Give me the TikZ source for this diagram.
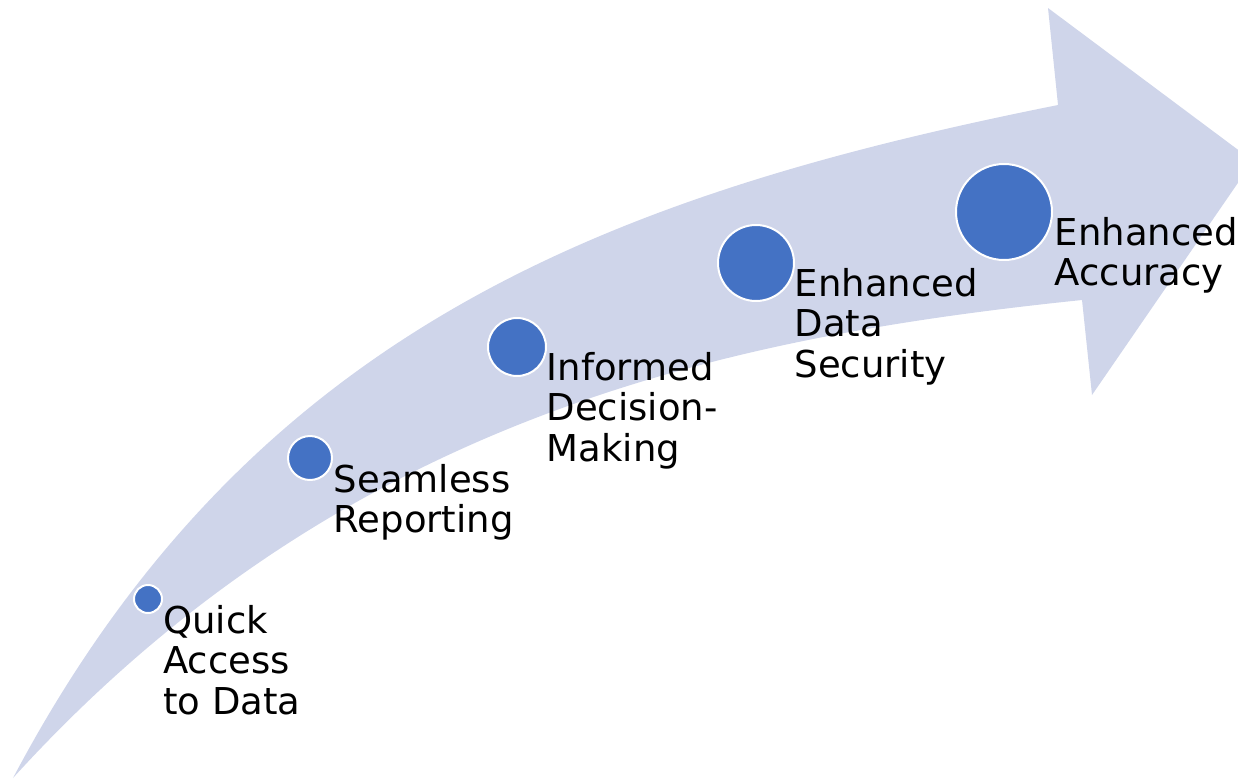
\documentclass[tikz,border=0pt]{standalone}
\usepackage{fontspec}
\setmainfont{DejaVu Sans}
\definecolor{arrowfill}{HTML}{CFD5EA}
\definecolor{dotfill}{HTML}{4472C4}
\begin{document}
\begin{tikzpicture}[x=1pt,y=-1pt,
  dot/.style={circle,fill=dotfill,draw=white,line width=2pt,inner sep=0pt},
  lbl/.style={anchor=north west,inner sep=0pt,align=left,font={\fontsize{37}{40.5}\selectfont}}]
\useasboundingbox (0,0) rectangle (1238,779);
\clip (0,0) rectangle (1238,779);
% curved arrow
\fill[arrowfill] (13,778) .. controls (250,330) and (608,195) .. (1058,105)
  -- (1048,8) -- (1253,161) -- (1092,395) -- (1082,300)
  .. controls (730,336.5) and (343,415) .. cycle;
% dots
\node[dot,minimum size=28pt] (c1) at (148,599) {};
\node[dot,minimum size=44pt] (c2) at (310,458) {};
\node[dot,minimum size=58pt] (c3) at (517,347) {};
\node[dot,minimum size=76pt] (c4) at (756,263) {};
\node[dot,minimum size=96pt] (c5) at (1004,212) {};
% labels
\node[lbl] (l1) at (163,604.6) {\strut Quick\\Access\\to Data};
\node[lbl] (l2) at (333.6,463.6) {\strut Seamless\\Reporting};
\node[lbl] (l3) at (546.5,351.6) {\strut Informed\\Decision-\\Making};
\node[lbl] (l4) at (794.5,267.6) {\strut Enhanced\\Data\\Security};
\node[lbl] (l5) at (1054.5,216.6) {\strut Enhanced\\Accuracy};
\end{tikzpicture}
\end{document}
